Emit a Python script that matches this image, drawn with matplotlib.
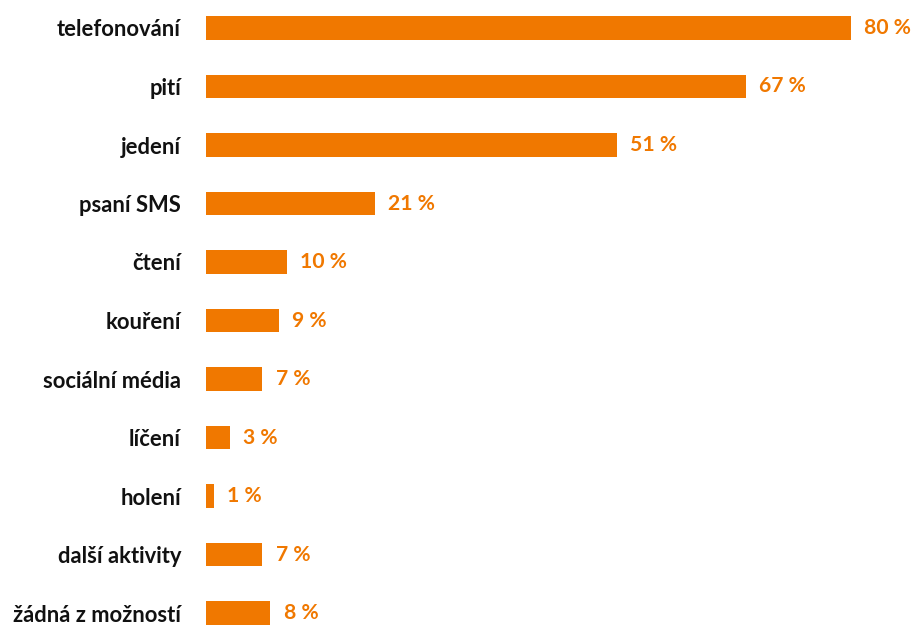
import matplotlib.pyplot as plt
import numpy as np

categories = ["telefonování", "pití", "jedení", "psaní SMS", "čtení", "kouření",
              "sociální média", "líčení", "holení", "další aktivity", "žádná z možností"]
values = [80, 67, 51, 21, 10, 9, 7, 3, 1, 7, 8]

orange = "#F07800"

fig = plt.figure(figsize=(9.13, 6.26), dpi=100)
ax = fig.add_axes([206 / 913, 0, 707 / 913, 1])

y = np.arange(len(categories))
ax.barh(y, values, height=0.41, color=orange)

for i, v in enumerate(values):
    ax.annotate("%d %%" % v, (v, i), xytext=(9.5, 0), textcoords="offset points",
                ha="left", va="center", fontsize=15.2, color=orange,
                family="Lato", fontweight="bold")

# bar centres: 28 px from top, 58.5 px apart
ax.set_xlim(0, 707 / 8.06)
ax.set_ylim(-28 / 58.5 + 626 / 58.5, -28 / 58.5)
ax.set_yticks(y)
ax.set_yticklabels(categories, fontsize=15.8, fontweight="bold", family="Lato", color="#111111")
ax.tick_params(axis="y", length=0, pad=18)
ax.set_xticks([])
for s in ax.spines.values():
    s.set_visible(False)

plt.savefig("out.png", dpi=100)
